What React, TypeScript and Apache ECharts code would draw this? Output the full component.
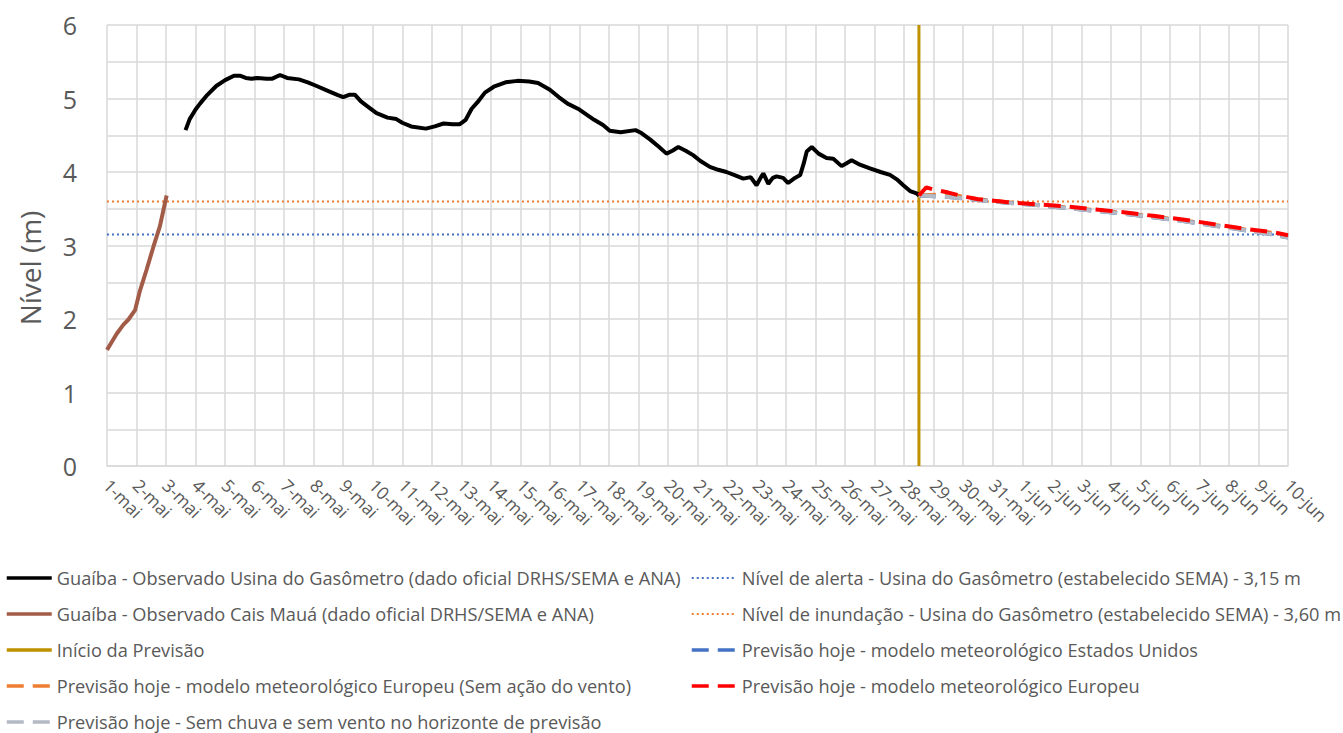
import React, { useEffect, useRef } from "react";
import * as echarts from "echarts";

const dayLabels = [
  "1-mai","2-mai","3-mai","4-mai","5-mai","6-mai","7-mai","8-mai","9-mai","10-mai",
  "11-mai","12-mai","13-mai","14-mai","15-mai","16-mai","17-mai","18-mai","19-mai","20-mai",
  "21-mai","22-mai","23-mai","24-mai","25-mai","26-mai","27-mai","28-mai","29-mai","30-mai",
  "31-mai","1-jun","2-jun","3-jun","4-jun","5-jun","6-jun","7-jun","8-jun","9-jun","10-jun",
];

// [day index (0 = 1-mai), level in m]
const gasometro: number[][] = [
  [2.66,4.57],[2.8,4.72],[3.0,4.85],[3.15,4.93],[3.4,5.05],[3.7,5.17],[4.0,5.25],[4.3,5.31],[4.5,5.31],
  [4.7,5.28],[4.9,5.27],[5.1,5.28],[5.4,5.27],[5.6,5.27],[5.86,5.32],[6.1,5.28],[6.5,5.26],[6.8,5.22],
  [7.1,5.17],[7.5,5.1],[7.8,5.05],[8.0,5.02],[8.2,5.05],[8.4,5.05],[8.6,4.96],[8.9,4.87],[9.13,4.8],
  [9.5,4.74],[9.8,4.72],[10.0,4.67],[10.3,4.62],[10.8,4.59],[11.1,4.62],[11.4,4.66],[11.7,4.65],
  [11.95,4.65],[12.15,4.71],[12.35,4.86],[12.55,4.95],[12.8,5.08],[13.1,5.16],[13.5,5.22],[13.9,5.24],
  [14.3,5.23],[14.6,5.21],[15.0,5.12],[15.3,5.02],[15.6,4.93],[16.0,4.85],[16.5,4.71],[16.8,4.64],
  [17.03,4.56],[17.4,4.54],[17.9,4.57],[18.1,4.53],[18.4,4.44],[18.7,4.34],[18.95,4.25],[19.15,4.29],
  [19.35,4.34],[19.6,4.29],[19.85,4.23],[20.1,4.15],[20.42,4.07],[20.7,4.03],[20.98,4.0],[21.3,3.95],
  [21.55,3.91],[21.8,3.93],[22.0,3.82],[22.15,3.93],[22.23,3.98],[22.4,3.84],[22.55,3.92],[22.68,3.94],
  [22.9,3.92],[23.07,3.85],[23.3,3.92],[23.48,3.96],[23.6,4.12],[23.7,4.28],[23.87,4.34],[24.1,4.25],
  [24.37,4.19],[24.6,4.18],[24.88,4.08],[25.05,4.12],[25.22,4.16],[25.5,4.1],[25.84,4.05],[26.2,4.0],
  [26.52,3.96],[26.75,3.9],[26.97,3.82],[27.2,3.74],[27.42,3.71],[27.5,3.68],
];

const caisMaua: number[][] = [
  [0,1.58],[0.15,1.68],[0.33,1.8],[0.55,1.92],[0.72,1.99],[0.95,2.12],[1.12,2.39],[1.34,2.67],
  [1.57,2.98],[1.79,3.26],[2.02,3.68],
];

const forecastStart = 27.5;
const axisMax = 40;
const alertLevel = 3.15;
const floodLevel = 3.6;

const europeu: number[][] = [
  [27.5,3.68],[27.75,3.79],[28.0,3.76],[28.5,3.72],[29.0,3.67],[29.5,3.63],[30.5,3.59],[31.5,3.56],
  [32.5,3.53],[33.5,3.49],[34.5,3.45],[35.5,3.4],[36.5,3.35],[37.5,3.29],[38.5,3.23],[39.5,3.18],[40,3.14],
];
const europeuSemVento: number[][] = [
  [27.5,3.68],[28.5,3.7],[29.5,3.63],[30.5,3.59],[31.5,3.55],[32.5,3.52],[33.5,3.48],[34.5,3.44],
  [35.5,3.39],[36.5,3.34],[37.5,3.28],[38.5,3.22],[39.5,3.17],[40,3.13],
];
const estadosUnidos: number[][] = [
  [27.5,3.68],[28.0,3.67],[28.5,3.66],[29.5,3.62],[30.5,3.58],[31.5,3.55],[32.5,3.51],[33.5,3.47],
  [34.5,3.43],[35.5,3.38],[36.5,3.33],[37.5,3.27],[38.5,3.21],[39.5,3.15],[40,3.11],
];
const semChuva: number[][] = [
  [27.5,3.68],[28.5,3.66],[29.5,3.62],[30.5,3.58],[31.5,3.55],[32.5,3.51],[33.5,3.47],[34.5,3.43],
  [35.5,3.38],[36.5,3.33],[37.5,3.27],[38.5,3.21],[39.5,3.15],[40,3.11],
];

const names = {
  gas: "Guaíba - Observado Usina do Gasômetro (dado oficial DRHS/SEMA e ANA)",
  cais: "Guaíba - Observado Cais Mauá (dado oficial DRHS/SEMA e ANA)",
  inicio: "Início da Previsão",
  euSem: "Previsão hoje - modelo meteorológico Europeu (Sem ação do vento)",
  semChuva: "Previsão hoje - Sem chuva e sem vento no horizonte de previsão",
  alerta: "Nível de alerta - Usina do Gasômetro (estabelecido SEMA) - 3,15 m",
  inund: "Nível de inundação - Usina do Gasômetro (estabelecido SEMA) - 3,60 m",
  eua: "Previsão hoje - modelo meteorológico Estados Unidos",
  eu: "Previsão hoje - modelo meteorológico Europeu",
};
const yAxisTitle = "Nível (m)";

const FONT = "'Open Sans', sans-serif";
const TEXT = "#595959";
const DASH = [17, 9];
const DOT = [2, 3];

export default function App() {
  const ref = useRef<HTMLDivElement>(null);
  useEffect(() => {
    if (!ref.current) return;
    const chart = echarts.init(ref.current, undefined, { renderer: "svg" });
    const styles: Record<string, { color: string; width: number; type: any }> = {
      [names.alerta]: { color: "#4472C4", width: 2, type: DOT },
      [names.inund]: { color: "#ED7D31", width: 2, type: DOT },
      [names.cais]: { color: "#A25B47", width: 4, type: "solid" },
      [names.gas]: { color: "#000000", width: 4, type: "solid" },
      [names.inicio]: { color: "#BF9000", width: 3, type: "solid" },
      [names.euSem]: { color: "#ED7D31", width: 4, type: DASH },
      [names.eua]: { color: "#4472C4", width: 4, type: DASH },
      [names.semChuva]: { color: "#B4B9C4", width: 4, type: DASH },
      [names.eu]: { color: "#FF0000", width: 4, type: DASH },
    };
    const line = (name: string, data: number[][], z = 2) => ({
      name, type: "line", data, symbol: "none", z,
      lineStyle: { ...styles[name] },
      itemStyle: { color: styles[name].color },
    });
    const legendItem = (name: string) => ({
      name,
      itemStyle: { opacity: 0 },
      lineStyle: { ...styles[name], width: styles[name].type === DOT ? 2 : 3.5 },
    });
    const legendCommon = {
      orient: "vertical",
      itemWidth: 45,
      itemHeight: 14,
      itemGap: 14,
      padding: 0,
      textStyle: { fontFamily: FONT, fontSize: 18.2, color: TEXT, lineHeight: 22 },
    };
    chart.setOption({
      animation: false,
      textStyle: { fontFamily: FONT },
      grid: { left: 107, right: 55, top: 25, bottom: 267, containLabel: false },
      xAxis: {
        type: "value", min: 0, max: axisMax, interval: 1,
        axisLine: { show: true, lineStyle: { color: "#d9d9d9", width: 1.5 } },
        axisTick: { show: false },
        splitLine: { show: true, lineStyle: { color: "#d9d9d9", width: 1.5 } },
        axisLabel: {
          rotate: -45, margin: 16, color: TEXT, fontSize: 17.5, fontFamily: FONT,
          formatter: (v: number) => dayLabels[Math.round(v)] ?? "",
        },
      },
      yAxis: {
        type: "value", min: 0, max: 6, interval: 0.5,
        axisLine: { show: false }, axisTick: { show: false },
        splitLine: { show: true, lineStyle: { color: "#d9d9d9", width: 1.5 } },
        axisLabel: {
          color: TEXT, fontSize: 25, fontFamily: FONT, margin: 30,
          formatter: (v: number) => (Math.abs(v - Math.round(v)) < 1e-6 ? String(Math.round(v)) : ""),
        },
      },
      graphic: [
        {
          type: "text", x: 30, y: 268, rotation: Math.PI / 2,
          style: {
            text: yAxisTitle, fill: TEXT, font: `28px ${FONT}`,
            align: "center", verticalAlign: "middle",
          },
        },
      ],
      legend: [
        {
          ...legendCommon, left: 5, top: 567,
          data: [names.gas, names.cais, names.inicio, names.euSem, names.semChuva].map(legendItem),
        },
        {
          ...legendCommon, left: 690, top: 567,
          data: [names.alerta, names.inund, names.eua, names.eu].map(legendItem),
        },
      ],
      series: [
        line(names.alerta, [[0, alertLevel], [axisMax, alertLevel]], 1),
        line(names.inund, [[0, floodLevel], [axisMax, floodLevel]], 1),
        line(names.cais, caisMaua, 3),
        line(names.gas, gasometro, 3),
        line(names.inicio, [[forecastStart, 0], [forecastStart, 6]], 2),
        line(names.euSem, europeuSemVento, 3),
        line(names.eua, estadosUnidos, 4),
        line(names.semChuva, semChuva, 5),
        line(names.eu, europeu, 6),
      ],
    });
    return () => chart.dispose();
  }, []);
  return (
    <div
      ref={ref}
      style={{ position: "fixed", left: 0, top: 0, width: 1343, height: 733, background: "#fff" }}
    />
  );
}
